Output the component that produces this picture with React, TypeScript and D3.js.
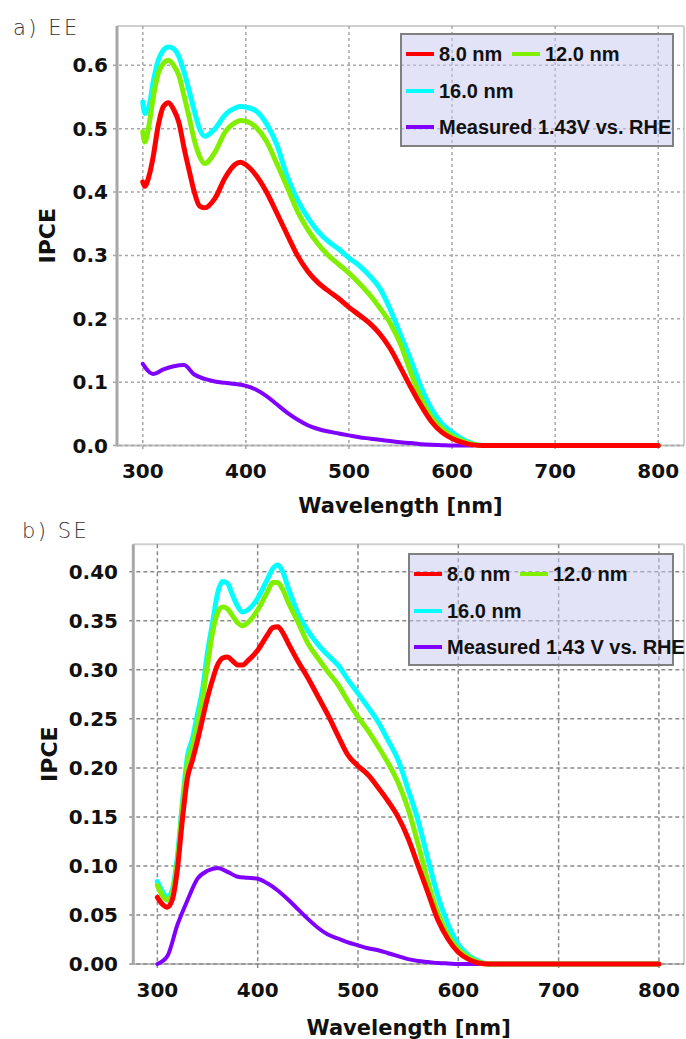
import React from "react";
import * as d3 from "d3";

// ---------- Data: a) EE ----------
const eeWl = [300, 302, 306, 310, 315, 320, 325, 330, 335, 340, 345, 350, 355, 360, 370, 380, 390, 395, 400, 410, 420, 430, 440, 450, 460, 470, 480, 490, 500, 510, 520, 530, 540, 550, 560, 570, 580, 590, 600, 610, 620, 630, 640, 700, 800];
const eeRed = [0.416, 0.409, 0.425, 0.455, 0.505, 0.535, 0.541, 0.53, 0.51, 0.47, 0.434, 0.4, 0.378, 0.375, 0.39, 0.423, 0.444, 0.447, 0.443, 0.426, 0.4, 0.367, 0.333, 0.3, 0.275, 0.257, 0.244, 0.232, 0.218, 0.206, 0.193, 0.176, 0.153, 0.123, 0.092, 0.063, 0.038, 0.021, 0.011, 0.005, 0.001, 0, 0, 0, 0];
const eeGreen = [0.495, 0.479, 0.505, 0.548, 0.587, 0.603, 0.608, 0.6, 0.584, 0.552, 0.518, 0.482, 0.457, 0.445, 0.463, 0.495, 0.51, 0.513, 0.512, 0.502, 0.48, 0.445, 0.408, 0.37, 0.341, 0.318, 0.3, 0.286, 0.272, 0.256, 0.238, 0.217, 0.193, 0.16, 0.115, 0.075, 0.045, 0.027, 0.015, 0.007, 0.002, 0, 0, 0, 0];
const eeCyan = [0.542, 0.524, 0.535, 0.573, 0.608, 0.624, 0.629, 0.626, 0.614, 0.59, 0.56, 0.528, 0.5, 0.488, 0.5, 0.522, 0.533, 0.535, 0.534, 0.528, 0.508, 0.475, 0.425, 0.388, 0.36, 0.338, 0.322, 0.31, 0.296, 0.284, 0.268, 0.248, 0.215, 0.175, 0.135, 0.092, 0.058, 0.035, 0.021, 0.01, 0.003, 0, 0, 0, 0];
const eeMeasWl = [300, 310, 320, 330, 340, 350, 360, 370, 380, 390, 400, 410, 420, 430, 440, 450, 460, 470, 480, 490, 500, 510, 520, 530, 540, 550, 560, 570, 580, 590, 600, 610, 620];
const eeMeas = [0.129, 0.113, 0.12, 0.125, 0.127, 0.112, 0.105, 0.101, 0.099, 0.097, 0.094, 0.088, 0.078, 0.065, 0.052, 0.041, 0.032, 0.026, 0.022, 0.019, 0.016, 0.013, 0.011, 0.009, 0.007, 0.005, 0.004, 0.002, 0.001, 0.0005, 0, 0, 0];

// ---------- Data: b) SE ----------
const seWl = [300, 305, 310, 315, 320, 325, 330, 335, 340, 345, 350, 355, 360, 365, 370, 375, 380, 385, 390, 400, 410, 415, 420, 425, 430, 440, 450, 460, 470, 480, 490, 500, 510, 520, 530, 540, 550, 560, 570, 580, 590, 600, 610, 620, 630, 640, 700, 800];
const seRed = [0.068, 0.061, 0.058, 0.066, 0.097, 0.148, 0.19, 0.208, 0.228, 0.25, 0.272, 0.29, 0.305, 0.312, 0.313, 0.309, 0.305, 0.305, 0.309, 0.32, 0.336, 0.343, 0.344, 0.338, 0.328, 0.309, 0.292, 0.273, 0.254, 0.233, 0.213, 0.202, 0.193, 0.18, 0.166, 0.15, 0.128, 0.1, 0.072, 0.044, 0.025, 0.012, 0.005, 0.001, 0, 0, 0, 0];
const seGreen = [0.08, 0.07, 0.065, 0.073, 0.105, 0.16, 0.205, 0.222, 0.245, 0.27, 0.305, 0.338, 0.358, 0.364, 0.362, 0.355, 0.348, 0.345, 0.348, 0.361, 0.38, 0.389, 0.389, 0.382, 0.37, 0.349, 0.327, 0.312, 0.298, 0.285, 0.268, 0.252, 0.238, 0.222, 0.205, 0.185, 0.158, 0.122, 0.083, 0.051, 0.029, 0.015, 0.007, 0.002, 0, 0, 0, 0];
const seCyan = [0.084, 0.074, 0.068, 0.076, 0.11, 0.165, 0.212, 0.23, 0.255, 0.28, 0.318, 0.348, 0.378, 0.39, 0.388, 0.376, 0.365, 0.359, 0.361, 0.373, 0.393, 0.403, 0.407, 0.4, 0.385, 0.358, 0.34, 0.326, 0.315, 0.305, 0.29, 0.276, 0.262, 0.247, 0.228, 0.208, 0.178, 0.146, 0.106, 0.068, 0.04, 0.02, 0.009, 0.003, 0, 0, 0, 0];
const seMeasWl = [300, 310, 320, 330, 340, 350, 360, 370, 380, 390, 400, 410, 420, 430, 440, 450, 460, 470, 480, 490, 500, 510, 520, 530, 540, 550, 560, 570, 580, 590, 600, 620];
const seMeas = [0, 0.008, 0.04, 0.065, 0.087, 0.095, 0.098, 0.094, 0.089, 0.088, 0.087, 0.082, 0.075, 0.066, 0.056, 0.046, 0.037, 0.03, 0.026, 0.022, 0.019, 0.016, 0.014, 0.011, 0.008, 0.005, 0.003, 0.002, 0.001, 0.0005, 0, 0];

const xTicks = [300, 400, 500, 600, 700, 800];
const eeYTicks = [0, 0.1, 0.2, 0.3, 0.4, 0.5, 0.6];
const seYTicks = [0, 0.05, 0.1, 0.15, 0.2, 0.25, 0.3, 0.35, 0.4];

const seriesColors = { red: "#ff0000", green: "#80f000", cyan: "#00ffff", purple: "#8000ff" };
const eeLegendLabels = ["8.0 nm", "12.0 nm", "16.0 nm", "Measured 1.43V vs. RHE"];
const seLegendLabels = ["8.0 nm", "12.0 nm", "16.0 nm", "Measured 1.43 V vs. RHE"];

type Series = { wl: number[]; v: number[]; color: string; width: number };

type PanelProps = {
  label: string;
  labelX: number;
  labelY: number;
  frame: { left: number; top: number; right: number; bottom: number };
  xDomain: [number, number];
  yDomain: [number, number];
  yTicks: number[];
  yFmt: string;
  yLabelEnd: number;
  xLabelBase: number;
  xTitleBase: number;
  yTitleX: number;
  series: Series[];
  legendBox: { x: number; y: number; w: number; h: number };
  legendLabels: string[];
  gridColor: string;
  gridDash: string;
};

function Panel(p: PanelProps) {
  const { frame } = p;
  const x = d3.scaleLinear().domain(p.xDomain).range([frame.left, frame.right]);
  const y = d3.scaleLinear().domain(p.yDomain).range([frame.bottom, frame.top]);
  const fmt = d3.format(p.yFmt);
  const tickFont = { fontFamily: "DejaVu Sans", fontWeight: "bold" as const, fontSize: 20, fill: "#111" };
  const lb = p.legendBox;
  const rows = [lb.y + 20, lb.y + 57, lb.y + 93];
  const legendItems = [
    { c: seriesColors.red, t: p.legendLabels[0], lx: lb.x + 5, ly: rows[0] },
    { c: seriesColors.green, t: p.legendLabels[1], lx: lb.x + 111, ly: rows[0] },
    { c: seriesColors.cyan, t: p.legendLabels[2], lx: lb.x + 5, ly: rows[1] },
    { c: seriesColors.purple, t: p.legendLabels[3], lx: lb.x + 5, ly: rows[2] },
  ];
  const cx = (frame.left + frame.right) / 2;
  const cy = (frame.top + frame.bottom) / 2;
  return (
    <g>
      <text x={p.labelX} y={p.labelY} fontFamily="DejaVu Sans" fontWeight={300} fontSize={21} letterSpacing={2.5} fill="#333">
        {p.label}
      </text>
      {/* frame */}
      <line x1={frame.left} x2={frame.right} y1={frame.top} y2={frame.top} stroke="#d0d0d0" strokeWidth={2} />
      <line x1={frame.right} x2={frame.right} y1={frame.top} y2={frame.bottom} stroke="#d0d0d0" strokeWidth={2} />
      <line x1={frame.left} x2={frame.right} y1={frame.bottom} y2={frame.bottom} stroke="#c0c0c0" strokeWidth={2} />
      {/* grid */}
      {xTicks.map((t) => (
        <line key={"gx" + t} x1={x(t)} x2={x(t)} y1={frame.top} y2={frame.bottom + 4} stroke={p.gridColor} strokeWidth={1.5} strokeDasharray={p.gridDash} />
      ))}
      {p.yTicks.map((t) => (
        <line key={"gy" + t} x1={frame.left - 4} x2={frame.right} y1={y(t)} y2={y(t)} stroke={p.gridColor} strokeWidth={1.5} strokeDasharray={p.gridDash} />
      ))}
      <line x1={frame.left} x2={frame.left} y1={frame.top} y2={frame.bottom + 1} stroke="#a8a8a8" strokeWidth={3} />
      {/* legend box */}
      <rect x={lb.x} y={lb.y} width={lb.w} height={lb.h} fill="#c8c8f0" fillOpacity={0.5} stroke="#808080" strokeWidth={2} />
      {/* curves */}
      {p.series.map((s, i) => {
        const pts = s.wl.map((w, j) => [w, s.v[j]] as [number, number]);
        const gen = d3.line<[number, number]>().x((d) => x(d[0])).y((d) => y(d[1])).curve(d3.curveMonotoneX);
        return <path key={"s" + i} d={gen(pts) || ""} fill="none" stroke={s.color} strokeWidth={s.width} strokeLinejoin="round" strokeLinecap="round" />;
      })}
      {/* legend entries */}
      {legendItems.map((it, i) => (
        <g key={"lg" + i}>
          <line x1={it.lx} x2={it.lx + 28} y1={it.ly} y2={it.ly} stroke={it.c} strokeWidth={4} />
          <text x={it.lx + 33} y={it.ly + 7} fontFamily="Liberation Sans" fontWeight="bold" fontSize={20} fill="#111">
            {it.t}
          </text>
        </g>
      ))}
      {/* tick labels */}
      {p.yTicks.map((t) => (
        <text key={"ty" + t} x={p.yLabelEnd} y={y(t) + 7} textAnchor="end" {...tickFont}>
          {fmt(t)}
        </text>
      ))}
      {xTicks.map((t) => (
        <text key={"tx" + t} x={x(t)} y={p.xLabelBase} textAnchor="middle" {...tickFont}>
          {t}
        </text>
      ))}
      <text x={cx} y={p.xTitleBase} textAnchor="middle" fontFamily="DejaVu Sans" fontWeight="bold" fontSize={21} fill="#111">
        Wavelength [nm]
      </text>
      <text transform={`translate(${p.yTitleX},${cy}) rotate(-90)`} textAnchor="middle" fontFamily="DejaVu Sans" fontWeight="bold" fontSize={22} fill="#111">
        IPCE
      </text>
    </g>
  );
}

export default function App() {
  const eeSeries: Series[] = [
    { wl: eeMeasWl, v: eeMeas, color: seriesColors.purple, width: 4 },
    { wl: eeWl, v: eeCyan, color: seriesColors.cyan, width: 5 },
    { wl: eeWl, v: eeGreen, color: seriesColors.green, width: 5 },
    { wl: eeWl, v: eeRed, color: seriesColors.red, width: 5 },
  ];
  const seSeries: Series[] = [
    { wl: seMeasWl, v: seMeas, color: seriesColors.purple, width: 4 },
    { wl: seWl, v: seCyan, color: seriesColors.cyan, width: 5 },
    { wl: seWl, v: seGreen, color: seriesColors.green, width: 5 },
    { wl: seWl, v: seRed, color: seriesColors.red, width: 5 },
  ];
  return (
    <svg width={686} height={1039} style={{ position: "absolute", left: 0, top: 0, background: "#fff" }}>
      <Panel
        label="a) EE"
        labelX={13}
        labelY={35}
        frame={{ left: 117, top: 26, right: 684, bottom: 445.5 }}
        xDomain={[275, 825]}
        yDomain={[0, 0.662]}
        yTicks={eeYTicks}
        yFmt=".1f"
        yLabelEnd={108}
        xLabelBase={478}
        xTitleBase={513}
        yTitleX={55}
        series={eeSeries}
        legendBox={{ x: 401, y: 34, w: 272, h: 112 }}
        legendLabels={eeLegendLabels}
        gridColor="#a8a8a8"
        gridDash="3,3"
      />
      <Panel
        label="b) SE"
        labelX={22}
        labelY={538}
        frame={{ left: 133.3, top: 544.3, right: 684, bottom: 964 }}
        xDomain={[276, 825]}
        yDomain={[0, 0.428]}
        yTicks={seYTicks}
        yFmt=".2f"
        yLabelEnd={118}
        xLabelBase={997}
        xTitleBase={1035}
        yTitleX={57}
        series={seSeries}
        legendBox={{ x: 409, y: 554, w: 264, h: 111 }}
        legendLabels={seLegendLabels}
        gridColor="#8a8a8a"
        gridDash="4,3"
      />
    </svg>
  );
}
